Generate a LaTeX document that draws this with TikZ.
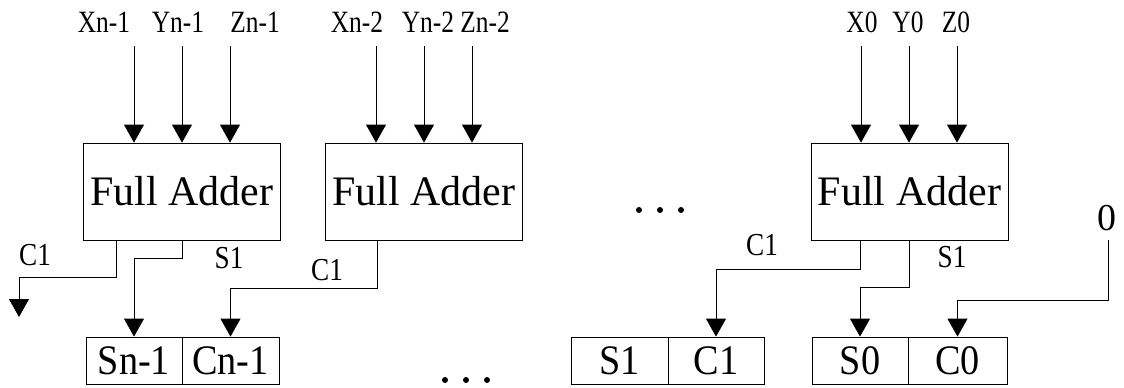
\documentclass[tikz,border=0pt]{standalone}
\usepackage{fontspec}
\usepackage{graphicx}
\setmainfont{Liberation Serif}
\usetikzlibrary{arrows.meta}
\newcommand\hsq[2]{\scalebox{#1}[1]{#2}}
\begin{document}
\begin{tikzpicture}[x=1pt,y=-1pt,
  line width=0.8pt,
  arr/.style={-{Triangle[width=20pt,length=18pt]}},
  fabox/.style={draw,rectangle,inner sep=0pt,minimum width=197pt,minimum height=97pt,font=\fontsize{42}{42}\selectfont},
  cell/.style={draw,rectangle,inner sep=0pt,minimum height=47pt,font=\fontsize{42}{42}\selectfont},
  inlab/.style={anchor=base,inner sep=0pt,font=\fontsize{31}{31}\selectfont},
  outlab/.style={anchor=base,inner sep=0pt,font=\fontsize{32}{32}\selectfont},
  dotc/.style={fill=black}]
\useasboundingbox (0,0) rectangle (1124,388);
% full adders
\node[fabox] (fa1) at (182,191.5) {Full Adder};
\node[fabox] (fa2) at (424,191.5) {Full Adder};
\node[fabox] (fa3) at (909.5,191.5) {Full Adder};
% result cells
\node[cell,minimum width=96pt] (sn1) at (134,360.5) {\hsq{0.91}{Sn-1}};
\node[cell,minimum width=97pt] (cn1) at (230.5,360.5) {\hsq{0.91}{Cn-1}};
\node[cell,minimum width=97pt] (s1) at (619.5,360.5) {\hsq{0.91}{S1}};
\node[cell,minimum width=96pt] (c1) at (716,360.5) {\hsq{0.91}{C1}};
\node[cell,minimum width=96pt] (s0) at (860,360.5) {\hsq{0.91}{S0}};
\node[cell,minimum width=99pt] (c0) at (957.5,360.5) {\hsq{0.91}{C0}};
% input labels
\node[inlab] (lx1) at (104,32) {\hsq{0.82}{Xn-1}};
\node[inlab] (ly1) at (178,32) {\hsq{0.82}{Yn-1}};
\node[inlab] (lz1) at (255,32) {\hsq{0.82}{Zn-1}};
\node[inlab] (lx2) at (357,32) {\hsq{0.82}{Xn-2}};
\node[inlab] (ly2) at (428,32) {\hsq{0.82}{Yn-2}};
\node[inlab] (lz2) at (485,32) {\hsq{0.82}{Zn-2}};
\node[inlab] (lx3) at (862,32) {\hsq{0.82}{X0}};
\node[inlab] (ly3) at (908,32) {\hsq{0.82}{Y0}};
\node[inlab] (lz3) at (956,32) {\hsq{0.82}{Z0}};
% input arrow starts
\coordinate (ix1) at (134,46);
\coordinate (iy1) at (182,46);
\coordinate (iz1) at (230,46);
\coordinate (ix2) at (376,46);
\coordinate (iy2) at (424,46);
\coordinate (iz2) at (472,46);
\coordinate (ix3) at (861,46);
\coordinate (iy3) at (909,46);
\coordinate (iz3) at (957,46);
\foreach \c/\f in {ix1/fa1,iy1/fa1,iz1/fa1,ix2/fa2,iy2/fa2,iz2/fa2,ix3/fa3,iy3/fa3,iz3/fa3}
  \draw[arr] (\c) -- (\c |- \f.north);
% output labels
\node[outlab] (lc1) at (35,265) {\hsq{0.85}{C1}};
\node[outlab] (ls1) at (229,268) {\hsq{0.85}{S1}};
\node[outlab] (lc2) at (327,280) {\hsq{0.85}{C1}};
\node[outlab] (lc3) at (762,255) {\hsq{0.85}{C1}};
\node[outlab] (ls3) at (952,267) {\hsq{0.85}{S1}};
\node[anchor=base,inner sep=0pt,font=\fontsize{38}{38}\selectfont] (zero) at (1107,230) {0};
% carry / sum connectors
\coordinate (fa1c) at (116,240);
\coordinate (fa1s) at (182,240);
\coordinate (fa2c) at (377,240);
\coordinate (fa3c) at (860,240);
\coordinate (fa3s) at (909,240);
\coordinate (zs) at (1108,240);
\coordinate (cout) at (19,317);
\draw[arr] (fa1c) -- (116,277) -- (19,277) -- (cout);
\draw[arr] (fa1s) -- (182,258) -- (sn1.north |- 0,258) -- (sn1.north);
\draw[arr] (fa2c) -- (377,288) -- (cn1.north |- 0,288) -- (cn1.north);
\draw[arr] (fa3c) -- (860,269) -- (c1.north |- 0,269) -- (c1.north);
\draw[arr] (fa3s) -- (909,287) -- (s0.north |- 0,287) -- (s0.north);
\draw[arr] (zs) -- (1108,300) -- (c0.north |- 0,300) -- (c0.north);
% ellipses
\foreach \x in {639,660,681} \fill[dotc] (\x,210) circle (3pt);
\foreach \x in {445,466,487} \fill[dotc] (\x,380) circle (3pt);
\end{tikzpicture}
\end{document}
